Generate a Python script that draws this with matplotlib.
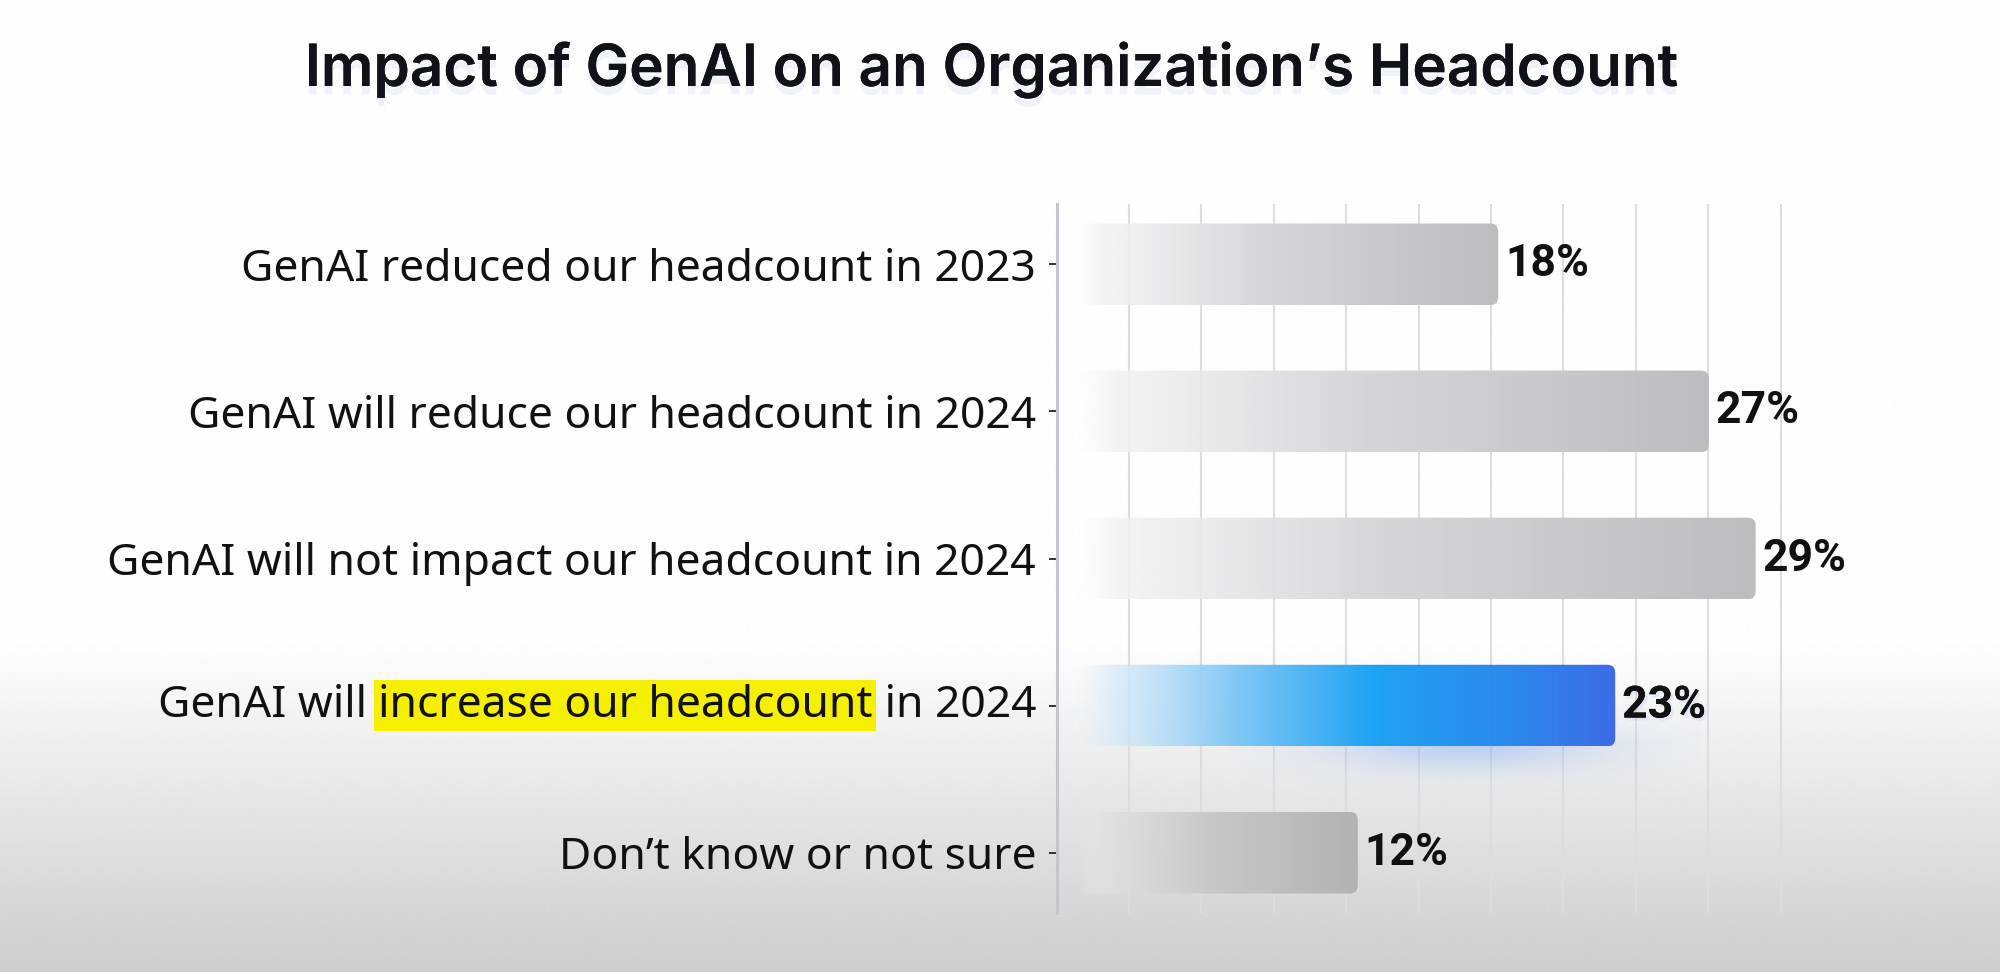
import numpy as np
import matplotlib
matplotlib.use('Agg')
import matplotlib.pyplot as plt
from matplotlib.patches import FancyBboxPatch
from matplotlib import patheffects as pe

# 数据
categories = [
    'GenAI reduced our headcount in 2023',
    'GenAI will reduce our headcount in 2024',
    'GenAI will not impact our headcount in 2024',
    'GenAI will increase our headcount in 2024',
    'Don\u2019t know or not sure',
]
values = [18, 27, 29, 23, 12]
highlight_idx = 3
highlight_parts = ['GenAI will ', 'increase our headcount', ' in 2024']
title = 'Impact of GenAI on an Organization\u2019s Headcount'

LABEL_FONT = 'Noto Sans'
VALUE_FONT = 'Roboto'
TITLE_FONT = 'Inter'
LABEL_SIZE = 32
BAR_H = 0.555
ASPECT = 0.16   # y/x 数据单位比例，用于圆角


def ramp(stops, n=400):
    pos = np.array([s[0] for s in stops])
    cols = np.array([s[1] for s in stops], dtype=float)
    t = np.linspace(0, 1, n)
    out = np.stack([np.interp(t, pos, cols[:, k]) for k in range(4)], axis=1)
    return out[None, :, :]


gray_grad = ramp([
    (0.00, (0.97, 0.97, 0.975, 0.0)),
    (0.06, (0.95, 0.95, 0.955, 0.85)),
    (0.45, (0.84, 0.84, 0.85, 1.0)),
    (1.00, (0.74, 0.74, 0.75, 1.0)),
])
gray_dark_grad = ramp([
    (0.00, (0.93, 0.93, 0.93, 0.0)),
    (0.10, (0.88, 0.88, 0.88, 0.85)),
    (0.50, (0.78, 0.78, 0.78, 1.0)),
    (1.00, (0.70, 0.70, 0.70, 1.0)),
])
blue_grad = ramp([
    (0.00, (0.88, 0.94, 0.99, 0.0)),
    (0.07, (0.84, 0.92, 0.98, 0.8)),
    (0.30, (0.50, 0.78, 0.96, 1.0)),
    (0.55, (0.12, 0.64, 0.95, 1.0)),
    (0.80, (0.17, 0.54, 0.93, 1.0)),
    (1.00, (0.24, 0.42, 0.90, 1.0)),
])
fills = [gray_grad, gray_grad, gray_grad, blue_grad, gray_dark_grad]

fig = plt.figure(figsize=(20, 9.72), dpi=100)

# 背景渐变
bg = fig.add_axes([0, 0, 1, 1], zorder=-10)
rows = np.linspace(0, 1, 972)
shade = np.where(rows < 0.66, 0.995, 0.995 - (rows - 0.66) / 0.34 * 0.19)
shade = np.clip(shade, 0.8, 1)
bg.imshow(np.repeat(shade[:, None], 4, axis=1), cmap='gray', vmin=0, vmax=1,
          aspect='auto', extent=(0, 1, 0, 1), origin='upper', interpolation='bilinear')
bg.set_xlim(0, 1)
bg.set_ylim(0, 1)
bg.axis('off')

ax = fig.add_axes([0.5285, 1 - 913 / 972, (1860 - 1057) / 2000, (913 - 204) / 972])
ax.patch.set_alpha(0)

y = np.arange(len(values))
bars = ax.barh(y, values, height=BAR_H, color='none', edgecolor='none')

for bar, grad in zip(bars, fills):
    x0, y0 = bar.get_x(), bar.get_y()
    w, h = bar.get_width(), bar.get_height()
    clip = FancyBboxPatch((x0, y0), w, h, boxstyle='round,pad=0,rounding_size=0.34',
                          mutation_aspect=ASPECT, fc='none', ec='none')
    ax.add_patch(clip)
    im = ax.imshow(grad, extent=(x0, x0 + w, y0 + h, y0), aspect='auto',
                   interpolation='bilinear', zorder=3)
    im.set_clip_path(clip)

# 蓝色柱子的光晕
hb = bars[highlight_idx]
gx = np.linspace(-1, 1, 200)
gy = np.linspace(-1, 1, 80)
GX, GY = np.meshgrid(gx, gy)
blob = np.exp(-(GX ** 2) * 3 - (GY ** 2) * 4)
glow = np.zeros(blob.shape + (4,))
glow[..., 0], glow[..., 1], glow[..., 2] = 0.3, 0.55, 0.97
glow[..., 3] = blob * 0.3
gxc = hb.get_width() * 0.72
gyc = hb.get_y() + hb.get_height()
ax.imshow(glow, extent=(gxc - 10, gxc + 10, gyc + 0.32, gyc - 0.32), aspect='auto',
          interpolation='bilinear', zorder=2)

# 数值标签
for i, v in enumerate(values):
    effects = None
    if i == highlight_idx:
        effects = [pe.withSimplePatchShadow(offset=(2, -2), shadow_rgbFace=(0.35, 0.6, 1.0), alpha=0.12),
                   pe.Normal()]
    ax.annotate(f'{v}%', xy=(v, i), xytext=(5, 0), textcoords='offset points',
                ha='left', va='center', fontsize=32, fontweight='semibold',
                family=VALUE_FONT, color='#111111', zorder=5, path_effects=effects)

# 坐标轴
ax.set_xlim(-0.855, 33.46)
ax.set_ylim(len(values) - 1 + 0.41, -0.41)
grid_x = 2.222 + 3.094 * np.arange(10)
ax.set_xticks(grid_x)
ax.grid(axis='x', color='#dcdce2', linewidth=1.5, zorder=0)
ax.set_axisbelow(True)
ax.tick_params(axis='x', length=0, labelbottom=False)

ax.set_yticks(y)
labels = list(categories)
labels[highlight_idx] = ''
ax.set_yticklabels(labels, fontsize=LABEL_SIZE, family=LABEL_FONT, color='#111111')
ax.tick_params(axis='y', length=5.8, width=1.4, color='#333333', pad=9.3)

for s in ('top', 'right', 'bottom'):
    ax.spines[s].set_visible(False)
ax.spines['left'].set_color('#c5c5cf')
ax.spines['left'].set_linewidth(2.2)

# 高亮标签，分段拼接
t_right = ax.annotate(highlight_parts[2], xy=(0, highlight_idx), xycoords=ax.get_yaxis_transform(),
                      xytext=(-15.1, 0), textcoords='offset points', ha='right', va='center',
                      fontsize=LABEL_SIZE, family=LABEL_FONT, color='#111111')
t_mid = ax.annotate(highlight_parts[1], xy=(0, 0), xycoords=t_right, ha='right', va='bottom',
                    fontsize=LABEL_SIZE, family=LABEL_FONT, color='#111111',
                    bbox=dict(boxstyle='square,pad=0.08', fc='#f5f000', ec='none'))
ax.annotate(highlight_parts[0], xy=(0, 0), xycoords=t_mid, ha='right', va='bottom',
            fontsize=LABEL_SIZE, family=LABEL_FONT, color='#111111')

# 标题
fig.text(0.4955, 1 - 70 / 972, title, ha='center', va='center', fontsize=42,
         fontweight='semibold', family=TITLE_FONT, color='#111118',
         path_effects=[pe.withSimplePatchShadow(offset=(0, -6), shadow_rgbFace='#c0c0e8', alpha=0.2),
                       pe.Normal()])

plt.savefig('out.png', dpi=100)
